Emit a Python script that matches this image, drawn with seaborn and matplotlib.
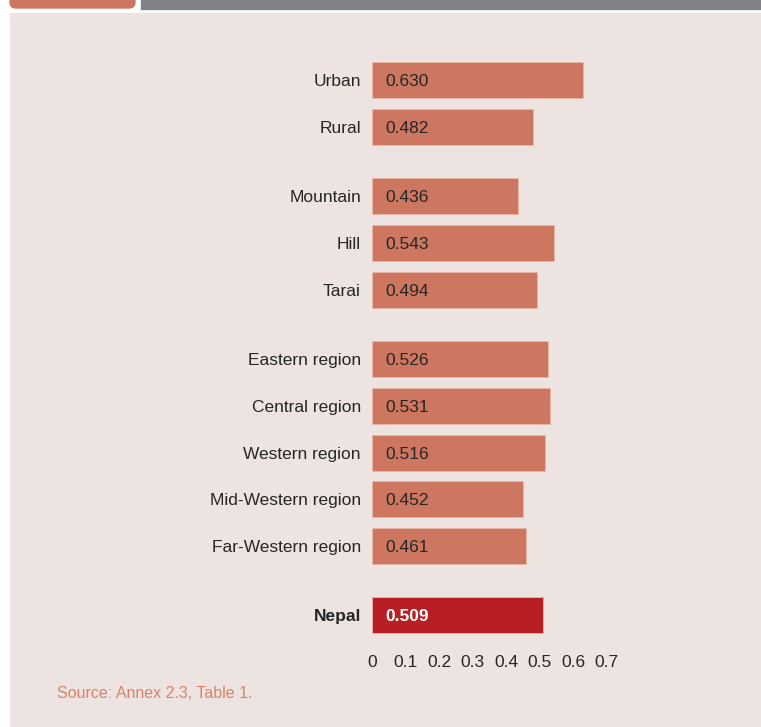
"""Human development index by area, Nepal - horizontal bar chart."""

import matplotlib.pyplot as plt
import matplotlib.patches as mpatches
import numpy as np
import pandas as pd
import seaborn as sns

# data
groups = [
    ["Urban", "Rural"],
    ["Mountain", "Hill", "Tarai"],
    ["Eastern region", "Central region", "Western region",
     "Mid-Western region", "Far-Western region"],
    ["Nepal"],
]
hdi_values = [0.630, 0.482, 0.436, 0.543, 0.494,
              0.526, 0.531, 0.516, 0.452, 0.461, 0.509]
x_ticks = [0, 0.1, 0.2, 0.3, 0.4, 0.5, 0.6, 0.7]
source_note = "Source: Annex 2.3, Table 1."

BG = "#ede4e1"
SALMON = "#cd7660"
DARK_RED = "#b81f25"
GREY_TAB = "#808285"

# row positions, with a gap between groups
names, pos = [], []
y = 0.0
for g in groups:
    for n in g:
        names.append(n)
        pos.append(y)
        y += 1
    y += 0.48
df = pd.DataFrame({"name": names, "value": hdi_values, "pos": pos})
palette = {n: (DARK_RED if n == "Nepal" else SALMON) for n in names}

sns.set_style("white")
plt.rcParams["font.family"] = ["Liberation Sans", "DejaVu Sans"]

fig = plt.figure(figsize=(7.61, 7.27), dpi=100, facecolor="white")
W, H = 761, 727

# panel background and top tabs
fig.patches.append(mpatches.Rectangle((10 / W, 0), 1 - 10 / W, 1 - 13 / H,
                                      transform=fig.transFigure, color=BG, zorder=-2))
fig.patches.append(mpatches.FancyBboxPatch((10 / W, 1 - 8 / H), 125 / W, 12 / H,
                                           boxstyle="round,pad=0,rounding_size=0.008",
                                           transform=fig.transFigure, color=SALMON, zorder=-1))
fig.patches.append(mpatches.Rectangle((141 / W, 1 - 9 / H), 1 - 141 / W, 9 / H,
                                      transform=fig.transFigure, color=GREY_TAB, zorder=-1))

ax = fig.add_axes([372 / W, 1 - 645 / H, 234.5 / W, 590 / H])
ax.set_facecolor("none")
ax.set_zorder(2)

sns.barplot(data=df, x="value", y="pos", hue="name", palette=palette,
            orient="h", native_scale=True, dodge=False, legend=False,
            width=0.77, saturation=1, ax=ax, edgecolor="#e9b7a8", linewidth=0.6)

unit = 46.8
ax.set_ylim((645 - 80) / unit, (55 - 80) / unit)
ax.set_xlim(0, 0.7)

for n, v, p in zip(names, hdi_values, pos):
    nepal = n == "Nepal"
    ax.text(0.039, p, f"{v:.3f}", va="center_baseline", ha="left",
            fontsize=12.5, color="white" if nepal else "#262626",
            fontweight="bold" if nepal else "normal")

ax.set_yticks(pos, labels=names)
for lbl in ax.get_yticklabels():
    if lbl.get_text() == "Nepal":
        lbl.set_fontweight("bold")
ax.set_xticks(x_ticks, labels=[f"{t:g}" for t in x_ticks])
ax.tick_params(axis="y", length=0, pad=8, labelsize=12.5, labelcolor="#262626")
ax.tick_params(axis="x", length=0, pad=7, labelsize=12.5, labelcolor="#262626")
ax.set_xlabel("")
ax.set_ylabel("")
sns.despine(ax=ax, left=True, bottom=True)

fig.text(57 / W, 1 - 694 / H, source_note, fontsize=11.5, color="#d9826b",
         va="center", ha="left")

fig.savefig("out.png", dpi=100, facecolor=fig.get_facecolor())
plt.close(fig)
